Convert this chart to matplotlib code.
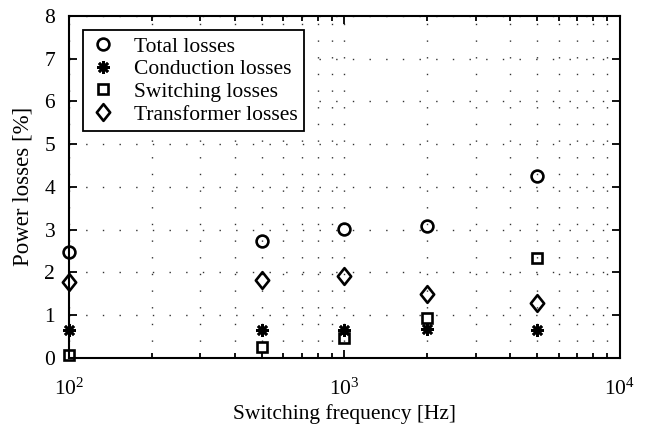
import numpy as np
import matplotlib
matplotlib.use('Agg')
import matplotlib.pyplot as plt
from matplotlib.path import Path

plt.rcParams['font.family'] = ['Liberation Serif', 'DejaVu Serif']
plt.rcParams['mathtext.fontset'] = 'custom'
plt.rcParams['mathtext.rm'] = 'Liberation Serif'
plt.rcParams['mathtext.it'] = 'Liberation Serif:italic'

# data
freq = [100, 500, 1000, 2000, 5000]
total_losses = [2.47, 2.72, 3.02, 3.09, 4.25]
conduction_losses = [0.65, 0.65, 0.65, 0.66, 0.65]
switching_losses = [0.05, 0.24, 0.47, 0.93, 2.34]
transformer_losses = [1.77, 1.82, 1.91, 1.48, 1.27]
x_ticks = [100, 1000, 10000]
x_ticklabels = ['$10^{2}$', '$10^{3}$', '$10^{4}$']

# MATLAB-like diamond, a bit taller than wide
tall_diamond = Path([(0, 1), (0.8, 0), (0, -1), (-0.8, 0), (0, 1)],
                    [Path.MOVETO, Path.LINETO, Path.LINETO, Path.LINETO, Path.CLOSEPOLY])

series = [
    (total_losses, 'o', 'Total losses', 8.5),
    (conduction_losses, (8, 2, 0), 'Conduction losses', 9),
    (switching_losses, 's', 'Switching losses', 7.5),
    (transformer_losses, tall_diamond, 'Transformer losses', 12),
]

fig = plt.figure(figsize=(6.45, 4.34), dpi=100)
ax = fig.add_axes([0.107, 0.176, 0.854, 0.787])

for vals, mk, lab, ms in series:
    ax.plot(freq, vals, linestyle='none', marker=mk, markersize=ms,
            markerfacecolor='none', markeredgecolor='k', markeredgewidth=1.9,
            color='k', label=lab, clip_on=False, zorder=5)

ax.set_xscale('log')
ax.set_xlim(100, 10000)
ax.set_ylim(0, 8)
ax.set_yticks(np.arange(0, 9, 1))
ax.set_xticks(x_ticks)
ax.set_xticklabels(x_ticklabels)

dots = (0, (1, 11))
ax.grid(True, which='major', linestyle=dots, color='#333333', linewidth=1.0)
ax.grid(True, which='minor', axis='x', linestyle=dots, color='#333333', linewidth=1.0)

ax.tick_params(which='both', direction='in', top=True, right=True, labelsize=15.5, width=1.3)
ax.tick_params(which='major', length=6)
ax.tick_params(which='minor', length=3.5)
ax.tick_params(axis='x', which='major', pad=15)
ax.tick_params(axis='y', which='major', pad=10)
for sp in ax.spines.values():
    sp.set_linewidth(1.5)

ax.set_xlabel('Switching frequency [Hz]', fontsize=15.5, labelpad=3)
ax.set_ylabel('Power losses [%]', fontsize=16.5, labelpad=8)

leg = ax.legend(loc='upper left', fontsize=15.5, frameon=True, fancybox=False,
                edgecolor='k', framealpha=1, borderpad=0.3, labelspacing=0.12,
                handlelength=1.3, handletextpad=0.75,
                bbox_to_anchor=(0.0, 1.0), borderaxespad=0.65)
leg.get_frame().set_linewidth(1.3)

fig.savefig('out.png', dpi=100)
